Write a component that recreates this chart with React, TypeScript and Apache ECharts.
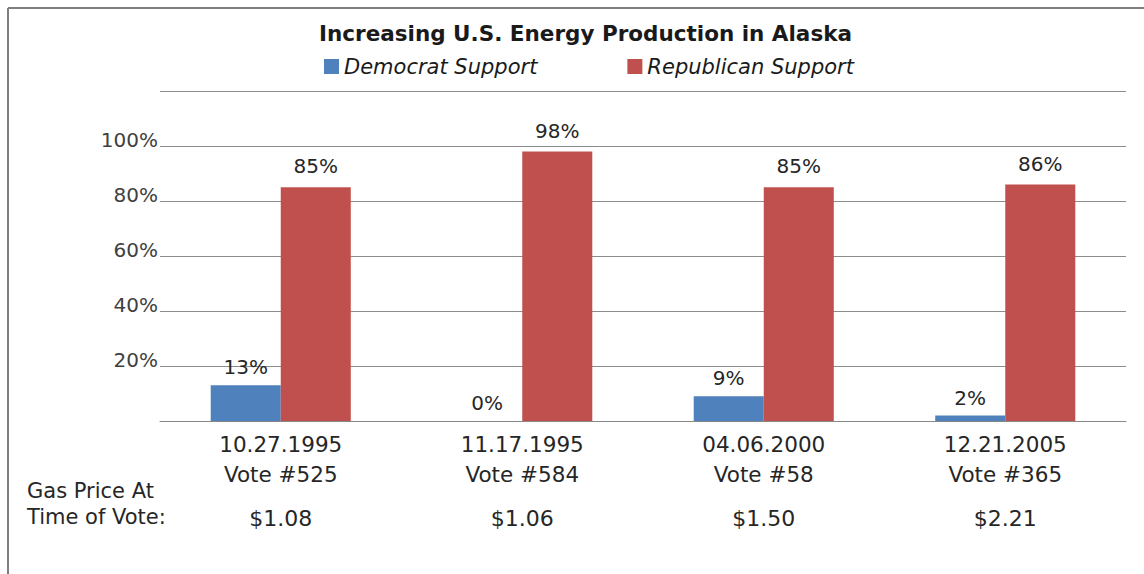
import React, { useEffect, useRef } from "react";
import * as echarts from "echarts";

const categories = ["10.27.1995\nVote #525", "11.17.1995\nVote #584", "04.06.2000\nVote #58", "12.21.2005\nVote #365"];
const gasPrices = ["$1.08", "$1.06", "$1.50", "$2.21"];
const democrat = [13, 0, 9, 2];
const republican = [85, 98, 85, 86];
const yTicks = [0, 20, 40, 60, 80, 100, 120];

const FONT = "DejaVu Sans";

export default function App() {
  const ref = useRef<HTMLDivElement>(null);
  useEffect(() => {
    if (!ref.current) return;
    const chart = echarts.init(ref.current, null, { renderer: "svg" });
    chart.setOption({
      animation: false,
      backgroundColor: "#ffffff",
      title: {
        text: "Increasing U.S. Energy Production in Alaska",
        left: 314,
        top: 17,
        textStyle: { fontFamily: FONT, fontWeight: "bold", fontSize: 21.5, color: "#1a1a1a" },
      },
      legend: {
        top: 51,
        left: 319,
        icon: "rect",
        itemWidth: 15,
        itemHeight: 15,
        itemGap: 90,
        textStyle: { fontFamily: FONT, fontStyle: "italic", fontSize: 21, color: "#1a1a1a" },
        data: ["Democrat Support", "Republican Support"],
      },
      grid: { left: 160, right: 18, top: 91, bottom: 153, containLabel: false },
      xAxis: [
        {
          type: "category",
          data: categories,
          axisLine: { lineStyle: { color: "#888888", width: 1 } },
          axisTick: { show: false },
          axisLabel: {
            interval: 0,
            margin: 8,
            lineHeight: 30,
            fontFamily: FONT,
            fontSize: 21.5,
            color: "#262626",
          },
        },
        {
          type: "category",
          position: "bottom",
          offset: 82,
          data: gasPrices,
          axisLine: { show: false },
          axisTick: { show: false },
          axisLabel: { interval: 0, margin: 4, fontFamily: FONT, fontSize: 22, color: "#262626" },
        },
      ],
      yAxis: {
        type: "value",
        min: yTicks[0],
        max: yTicks[yTicks.length - 1],
        interval: 20,
        axisLine: { show: false },
        axisTick: { show: false },
        splitLine: { lineStyle: { color: "#8c8c8c", width: 1 } },
        axisLabel: {
          margin: 2,
          fontFamily: FONT,
          fontSize: 20,
          color: "#404040",
          verticalAlign: "bottom",
          lineHeight: 12,
          formatter: (v: number) => (v === 0 || v === 120 ? "" : v + "%"),
        },
      },
      series: [
        {
          name: "Democrat Support",
          type: "bar",
          data: democrat,
          barGap: "0%",
          barCategoryGap: "42%",
          itemStyle: { color: "#4f81bd" },
          label: {
            show: true,
            position: "top",
            distance: 8,
            formatter: "{c}%",
            fontFamily: FONT,
            fontSize: 20,
            color: "#262626",
          },
        },
        {
          name: "Republican Support",
          type: "bar",
          data: republican,
          itemStyle: { color: "#c0504d" },
          label: {
            show: true,
            position: "top",
            distance: 11,
            formatter: "{c}%",
            fontFamily: FONT,
            fontSize: 20,
            color: "#262626",
          },
        },
      ],
      graphic: [
        { type: "line", shape: { x1: 8, y1: 8, x2: 8, y2: 574 }, style: { stroke: "#7f7f7f", lineWidth: 2 } },
        { type: "line", shape: { x1: 8, y1: 8, x2: 1144, y2: 8 }, style: { stroke: "#7f7f7f", lineWidth: 2 } },
        {
          type: "text",
          left: 27,
          top: 478,
          style: {
            text: "Gas Price At\nTime of Vote:",
            fontFamily: FONT,
            fontSize: 21,
            lineHeight: 26,
            fill: "#262626",
          },
        },
      ],
    });
    return () => chart.dispose();
  }, []);
  return <div ref={ref} style={{ position: "fixed", left: 0, top: 0, width: 1144, height: 574 }} />;
}
